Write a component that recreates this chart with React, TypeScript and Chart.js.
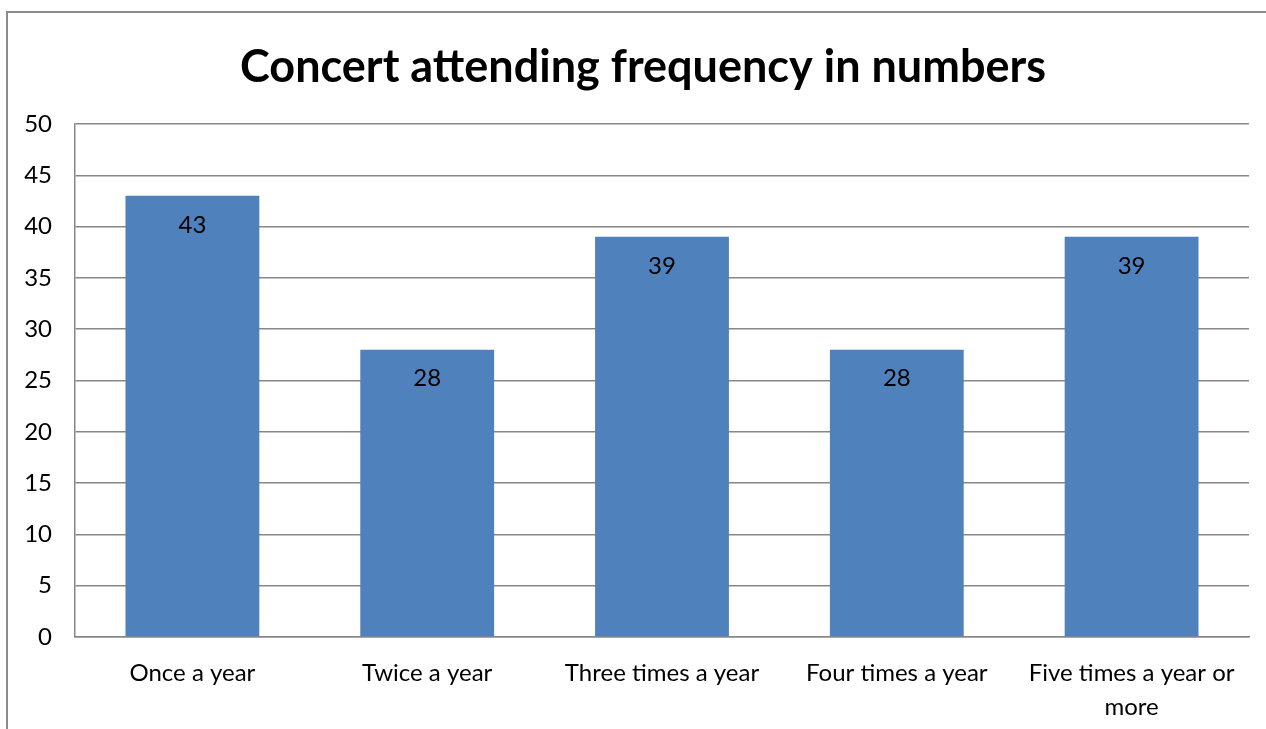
import React, { useEffect, useRef } from "react";
import { Chart, registerables } from "chart.js";

Chart.register(...registerables);

const TITLE = "Concert attending frequency in numbers";
const categories: (string | string[])[] = [
  "Once a year",
  "Twice a year",
  "Three times a year",
  "Four times a year",
  ["Five times a year or", "more"],
];
const counts = [43, 28, 39, 28, 39];
const yTicks = { min: 0, max: 50, step: 5 };

const FONT = "Lato, 'Noto Sans', sans-serif";
const GRID = "#878787";

// Frame lines, title and the value written inside each bar
const decorations = {
  id: "decorations",
  afterDraw(chart: Chart) {
    const ctx = chart.ctx;
    ctx.save();
    ctx.strokeStyle = "#8c8c8c";
    ctx.lineWidth = 2;
    ctx.beginPath();
    ctx.moveTo(7, chart.height);
    ctx.lineTo(7, 12);
    ctx.lineTo(chart.width, 12);
    ctx.stroke();

    ctx.fillStyle = "#000";
    ctx.font = `bold 45px ${FONT}`;
    ctx.textAlign = "center";
    ctx.textBaseline = "middle";
    ctx.fillText(TITLE, 643, 67);

    ctx.font = `24px ${FONT}`;
    const meta = chart.getDatasetMeta(0);
    meta.data.forEach((bar: any, i: number) => {
      ctx.fillText(String(counts[i]), bar.x, bar.y + 29);
    });
    ctx.restore();
  },
};

export default function App() {
  const ref = useRef<HTMLCanvasElement>(null);

  useEffect(() => {
    document.body.style.margin = "0";
    const chart = new Chart(ref.current!, {
      type: "bar",
      data: {
        labels: categories,
        datasets: [
          {
            data: counts,
            backgroundColor: "#4F81BD",
            borderWidth: 0,
            categoryPercentage: 1,
            barPercentage: 0.57,
          },
        ],
      },
      options: {
        responsive: false,
        animation: false,
        layout: { padding: { left: 0, top: 124, right: 17, bottom: 0 } },
        plugins: {
          legend: { display: false },
          title: { display: false },
          tooltip: { enabled: false },
        },
        scales: {
          x: {
            grid: { display: false, drawTicks: false },
            border: { display: true, color: GRID, width: 1.5 },
            ticks: {
              color: "#000",
              font: { family: FONT, size: 24, lineHeight: 1.42 },
              padding: 19,
              maxRotation: 0,
              autoSkip: false,
            },
            afterFit(scale: any) {
              scale.height = 92;
            },
          },
          y: {
            min: yTicks.min,
            max: yTicks.max,
            grid: { color: GRID, lineWidth: 1.5, drawTicks: false },
            border: { display: true, color: GRID, width: 1.5 },
            ticks: {
              stepSize: yTicks.step,
              color: "#000",
              font: { family: FONT, size: 24 },
              padding: 23,
            },
            afterFit(scale: any) {
              scale.width = 75;
            },
          },
        },
      },
      plugins: [decorations],
    });
    return () => chart.destroy();
  }, []);

  return <canvas ref={ref} width={1266} height={729} style={{ display: "block" }} />;
}
